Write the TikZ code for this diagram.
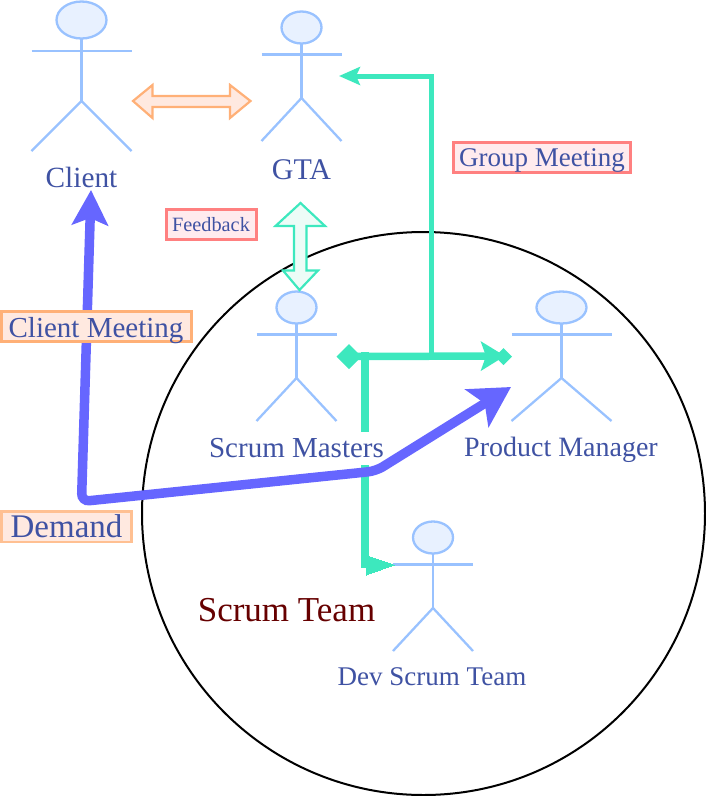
\documentclass[tikz,border=0pt]{standalone}
\usepackage{fontspec}
\setmainfont{Liberation Serif}
\usetikzlibrary{arrows.meta,shapes.geometric}
\definecolor{actorline}{HTML}{99C2FF}
\definecolor{actorfill}{HTML}{E8F1FF}
\definecolor{txt}{HTML}{3F52A3}
\definecolor{mint}{HTML}{3DE8BE}
\definecolor{mintfill}{HTML}{EDFCF7}
\definecolor{flow}{HTML}{6666FF}
\definecolor{orangeline}{HTML}{FFB077}
\definecolor{orangefill}{HTML}{FFE9E0}
\definecolor{redline}{HTML}{FF8080}
\definecolor{redfill}{HTML}{FFEBEE}
\definecolor{teamred}{HTML}{660000}
\tikzset{
  x=1pt,y=-1pt,
  actor/.style={draw=actorline,line width=2.3pt},
  actorhead/.style={actor,fill=actorfill},
  lbl/.style={anchor=base,text=txt,inner sep=0pt},
  sz/.style={font=\fontsize{#1}{#1}\selectfont},
  boxlbl/.style={anchor=base,text=txt,inner ysep=0pt,inner xsep=0pt,outer sep=0pt,align=center},
  orangebox/.style={boxlbl,draw=orangeline,fill=orangefill,line width=3pt},
  redbox/.style={boxlbl,draw=redline,fill=redfill,line width=3pt},
  mintdia/.style={diamond,fill=mint,inner sep=0pt,outer sep=0pt},
  flowline/.style={draw=flow,line width=9.5pt,rounded corners=8pt,line cap=butt},
}
% #1 head x, #2 head y, #3 rx, #4 ry, #5 half arm span, #6 arm y, #7 hip y, #8 foot y
\newcommand{\stick}[8]{%
  \draw[actor] (#1,#2+#4) -- (#1,#7);
  \draw[actor] (#1-#5,#6) -- (#1+#5,#6);
  \draw[actor] (#1-#5,#8) -- (#1,#7) -- (#1+#5,#8);
  \draw[actorhead] (#1,#2) ellipse [x radius=#3,y radius=#4];
}
\begin{document}
\begin{tikzpicture}
\useasboundingbox (0,0) rectangle (706,796);
% team circle
\draw[black,line width=2pt] (423.5,513.5) circle [radius=281.5];
% actors
\stick{81.5}{20}{25}{18.5}{50}{51}{101}{151}
\stick{301.5}{27.5}{20}{16}{40}{54.5}{98}{141}
\stick{296.5}{307.5}{20}{16}{40}{334.5}{378}{421}
\stick{561.5}{307.5}{25}{16}{50}{334.5}{378}{421}
\stick{433}{537.5}{20}{16}{40}{564.5}{608}{651}
% feedback and client-GTA double arrows
\draw[draw=orangeline,fill=orangefill,line width=2.2pt,line join=miter]
  (133,101) -- (152.5,85) -- (152.5,96) -- (230,96) -- (230,85) -- (250.5,101)
  -- (230,118) -- (230,107) -- (152.5,107) -- (152.5,118) -- cycle;
\draw[draw=mint,fill=mintfill,line width=2.2pt,line join=miter]
  (300.5,203) -- (325,226) -- (306.5,226) -- (306.5,270.5) -- (318,270.5) -- (299.5,290)
  -- (283,270.5) -- (294,270.5) -- (294,226) -- (275.5,226) -- cycle;
% green connectors
\coordinate (gjoin) at (431,356);
\coordinate (gtaend) at (339,76);
\coordinate (gtop) at (431,76);
\coordinate (gvtop) at (364.5,352);
\coordinate (gvbot) at (364.5,568);
\coordinate (devend) at (394,565);
\coordinate (pmend) at (505,356);
\node[mintdia,minimum width=25pt,minimum height=25pt] (dL) at (349,356.5) {};
\node[mintdia,minimum width=17pt,minimum height=17pt] (dR) at (503.5,356.5) {};
\draw[mint,line width=5pt,-{Stealth[length=21pt,width=18pt,inset=4pt]}] (gjoin) -- (gtop) -- (gtaend);
\draw[mint,line width=7.5pt,-{Stealth[length=24pt,width=29pt,inset=5pt]}] (dL.center) -- (pmend);
\draw[mint,line width=8pt] (gvtop) -- (gvbot);
\draw[mint,line width=0pt,fill=mint] (366,555.5) -- (devend) -- (366,575) -- cycle;
% labels of the team
\node[lbl,sz=29,fill=white,text height=26pt,text depth=7pt,minimum width=178pt] (sm) at (296.5,457.5) {Scrum Masters};
\node[lbl,sz=28] (pm) at (561,456) {Product Manager};
\node[lbl,sz=27] (dev) at (432,685) {Dev Scrum Team};
\node[lbl,sz=35,text=teamred] (team) at (286.5,621) {Scrum Team};
\node[lbl,sz=29.3] (client) at (81.5,187.5) {Client};
\node[lbl,sz=30] (gta) at (301.5,179) {GTA};
% blue flow
\coordinate (fcorner) at (81.5,501.5);
\coordinate (fbend) at (376,471);
\coordinate (ftipC) at (91,190);
\coordinate (ftipP) at (511,387);
\draw[flowline,{Stealth[length=35pt,width=36pt,inset=7pt]}-{Stealth[length=40pt,width=44pt,inset=9pt]}] (ftipC) -- (fcorner) -- (fbend) -- (ftipP);
% boxed labels
\node[orangebox,sz=29,minimum width=190pt,text height=25.2pt,text depth=4.8pt] (cm) at (96,337) {Client Meeting};
\node[boxlbl,draw=orangeline!80!white,fill=orangefill,line width=2.2pt,sz=33,minimum width=130pt,text height=26pt,text depth=4.7pt] (dem) at (66.5,537.5) {Demand};
\node[redbox,sz=20.3,minimum width=90pt,text height=22pt,text depth=7.5pt] (fb) at (211,231.7) {Feedback};
\node[redbox,sz=27,minimum width=177pt,text height=23.5pt,text depth=6pt] (gm) at (542,166) {Group Meeting};
\end{tikzpicture}
\end{document}
